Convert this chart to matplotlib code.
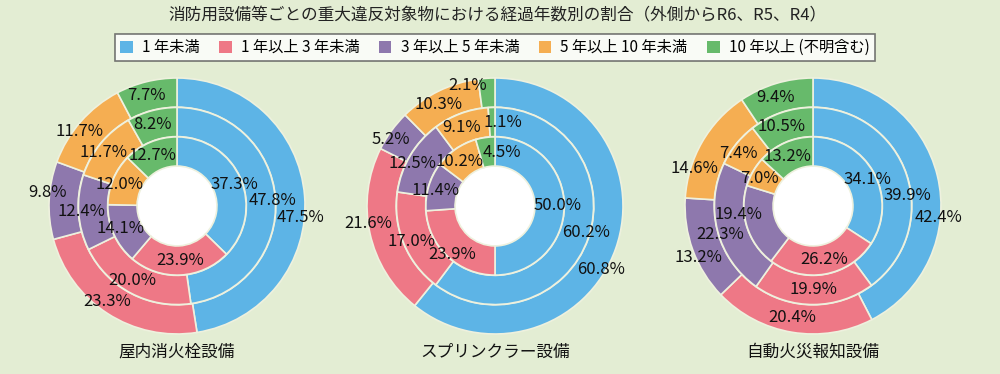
import matplotlib.pyplot as plt
from matplotlib.patches import Patch, Circle
import numpy as np

plt.rcParams['font.family'] = ['Noto Sans CJK JP', 'DejaVu Sans']

title = "消防用設備等ごとの重大違反対象物における経過年数別の割合（外側からR6、R5、R4）"
categories = ["1 年未満", "1 年以上 3 年未満", "3 年以上 5 年未満", "5 年以上 10 年未満", "10 年以上 (不明含む)"]
colors = ["#5DB4E6", "#EE7886", "#8E78AD", "#F5AE52", "#67BA6B"]
charts = ["屋内消火栓設備", "スプリンクラー設備", "自動火災報知設備"]

# rings: outer R6, middle R5, inner R4
hydrant_r6 = [47.5, 23.3, 9.8, 11.7, 7.7]
hydrant_r5 = [47.8, 20.0, 12.4, 11.7, 8.2]
hydrant_r4 = [37.3, 23.9, 14.1, 12.0, 12.7]

sprinkler_r6 = [60.8, 21.6, 5.2, 10.3, 2.1]
sprinkler_r5 = [60.2, 17.0, 12.5, 9.1, 1.1]
sprinkler_r4 = [50.0, 23.9, 11.4, 10.2, 4.5]

alarm_r6 = [42.4, 20.4, 13.2, 14.6, 9.4]
alarm_r5 = [39.9, 19.9, 22.3, 7.4, 10.5]
alarm_r4 = [34.1, 26.2, 19.4, 7.0, 13.2]

data = [
    [hydrant_r6, hydrant_r5, hydrant_r4],
    [sprinkler_r6, sprinkler_r5, sprinkler_r4],
    [alarm_r6, alarm_r5, alarm_r4],
]

bg = "#E3EDD3"
radii = [1.0, 0.77, 0.54]
width = 0.228
hole = 0.315
xstretch = 1.14  # labels spread sideways a bit, like the original

# hand nudges for a few labels (chart, ring, category) -> (dx, dy)
nudge = {
    (0, 0, 0): (-0.04, -0.16),
    (0, 0, 2): (0.0, 0.07),
    (1, 0, 0): (-0.12, -0.2),
    (1, 0, 1): (0.0, 0.05),
    (1, 1, 1): (0.04, -0.03),
    (1, 0, 4): (-0.15, 0.06),
    (1, 1, 4): (0.09, 0.0),
    (1, 2, 4): (0.12, 0.0),
    (1, 2, 1): (0.0, -0.07),
    (2, 0, 0): (0.0, -0.3),
    (2, 1, 0): (0.03, -0.12),
    (2, 2, 2): (-0.12, 0.06),
    (2, 1, 2): (0.0, -0.06),
    (2, 0, 2): (0.05, -0.1),
    (2, 0, 3): (-0.05, -0.15),
}

fig = plt.figure(figsize=(10, 3.74), dpi=100)
fig.patch.set_facecolor(bg)

centers_x = [177, 495, 813]
cy = 206
size = 300
for ci, rings in enumerate(data):
    ax = fig.add_axes([(centers_x[ci] - size / 2) / 1000, (374 - cy - size / 2) / 374,
                       size / 1000, size / 374])
    ax.set_facecolor(bg)
    for ri, vals in enumerate(rings):
        ax.pie(vals, radius=radii[ri], colors=colors, startangle=90, counterclock=False,
               wedgeprops=dict(width=width, edgecolor="#EEF1DE", linewidth=1.2))
        total = sum(vals)
        cum = np.cumsum([0] + vals[:-1])
        r = radii[ri] - width / 2
        for k, v in enumerate(vals):
            frac = (cum[k] + v / 2) / total
            ang = np.deg2rad(90 - frac * 360)
            dx, dy = nudge.get((ci, ri, k), (0, 0))
            ax.text(r * np.cos(ang) * xstretch + dx, r * np.sin(ang) + dy, f"{v:.1f}%",
                    ha="center", va="center", fontsize=12, color="#111111")
    ax.add_patch(Circle((0, 0), hole, color="white", zorder=0.5))
    lim = size / 256
    ax.set_xlim(-lim, lim)
    ax.set_ylim(-lim, lim)
    ax.set_aspect("equal")
    ax.axis("off")
    fig.text(centers_x[ci] / 1000, 1 - 352 / 374, charts[ci], ha="center", va="center",
             fontsize=12, color="#111111")

fig.text(0.497, 1 - 16 / 374, title, ha="center", va="center", fontsize=12, color="#222222")

handles = [Patch(facecolor=c, edgecolor="none") for c in colors]
leg = fig.legend(handles, categories, ncol=5, loc="center", bbox_to_anchor=(0.495, 1 - 47.5 / 374),
                 fontsize=11, frameon=True, fancybox=False, edgecolor="#555555",
                 handlelength=0.8, handleheight=0.8, handletextpad=0.6, columnspacing=1.3,
                 borderpad=0.35)
leg.get_frame().set_linewidth(1.2)
leg.get_frame().set_facecolor("white")

fig.savefig("out.png", dpi=100, facecolor=bg)
